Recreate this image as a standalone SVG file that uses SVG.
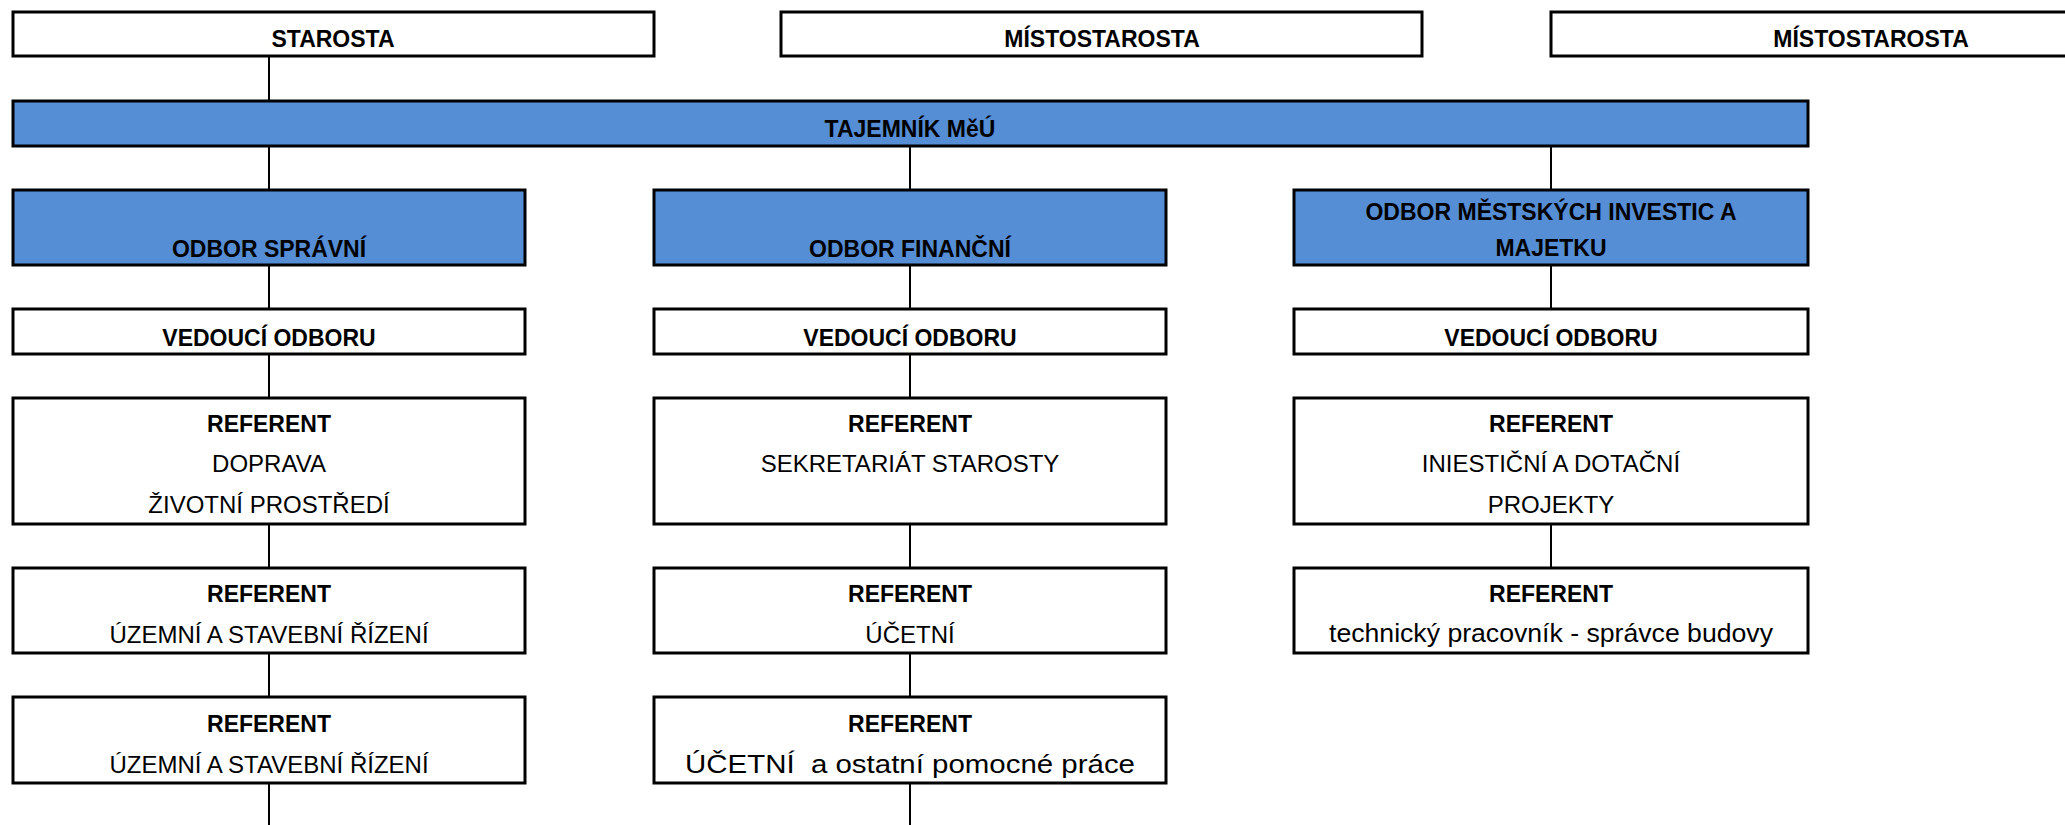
<svg xmlns="http://www.w3.org/2000/svg" width="2065" height="825" viewBox="0 0 2065 825">
<style>
.box{fill:#fff;stroke:#000;stroke-width:3}
.blue{fill:#558ED5;stroke:#000;stroke-width:3}
.b{font-family:"Liberation Sans",Arial,sans-serif;font-weight:bold;font-size:23px;text-anchor:middle;fill:#000}
.r{font-family:"Liberation Sans",Arial,sans-serif;font-size:24px;text-anchor:middle;fill:#000;white-space:pre}
.lc{font-size:26px}
.conn line{stroke:#000;stroke-width:2}
</style>
<rect width="2065" height="825" fill="#fff"/>
<g class="conn" id="connectors">
<line x1="269" y1="56" x2="269" y2="101"/>
<line x1="269" y1="146" x2="269" y2="190"/>
<line x1="269" y1="265" x2="269" y2="309"/>
<line x1="269" y1="354" x2="269" y2="398"/>
<line x1="269" y1="524" x2="269" y2="568"/>
<line x1="269" y1="653" x2="269" y2="697"/>
<line x1="269" y1="783" x2="269" y2="825"/>
<line x1="910" y1="146" x2="910" y2="190"/>
<line x1="910" y1="265" x2="910" y2="309"/>
<line x1="910" y1="354" x2="910" y2="398"/>
<line x1="910" y1="524" x2="910" y2="568"/>
<line x1="910" y1="653" x2="910" y2="697"/>
<line x1="910" y1="783" x2="910" y2="825"/>
<line x1="1551" y1="146" x2="1551" y2="190"/>
<line x1="1551" y1="265" x2="1551" y2="309"/>
<line x1="1551" y1="524" x2="1551" y2="568"/>
</g>
<g id="starosta"><rect class="box" x="13" y="12" width="641" height="44"/><text class="b" x="333" y="47">STAROSTA</text></g>
<g id="mistostarosta1"><rect class="box" x="781" y="12" width="641" height="44"/><text class="b" x="1102" y="47">MÍSTOSTAROSTA</text></g>
<g id="mistostarosta2"><rect class="box" x="1551" y="12" width="641" height="44"/><text class="b" x="1871" y="47">MÍSTOSTAROSTA</text></g>
<g id="tajemnik"><rect class="blue" x="13" y="101" width="1795" height="45"/><text class="b" x="910" y="137">TAJEMNÍK MěÚ</text></g>

<g id="odbor-spravni"><rect class="blue" x="13" y="190" width="512" height="75"/><text class="b" x="269" y="257">ODBOR SPRÁVNÍ</text></g>
<g id="odbor-financni"><rect class="blue" x="654" y="190" width="512" height="75"/><text class="b" x="910" y="257">ODBOR FINANČNÍ</text></g>
<g id="odbor-investic"><rect class="blue" x="1294" y="190" width="514" height="75"/><text class="b" x="1551" y="220">ODBOR MĚSTSKÝCH INVESTIC A</text><text class="b" x="1551" y="256">MAJETKU</text></g>

<g id="vedouci1"><rect class="box" x="13" y="309" width="512" height="45"/><text class="b" x="269" y="346">VEDOUCÍ ODBORU</text></g>
<g id="vedouci2"><rect class="box" x="654" y="309" width="512" height="45"/><text class="b" x="910" y="346">VEDOUCÍ ODBORU</text></g>
<g id="vedouci3"><rect class="box" x="1294" y="309" width="514" height="45"/><text class="b" x="1551" y="346">VEDOUCÍ ODBORU</text></g>

<g id="ref1a"><rect class="box" x="13" y="398" width="512" height="126"/><text class="b" x="269" y="432">REFERENT</text><text class="r" x="269" y="472">DOPRAVA</text><text class="r" x="269" y="513">ŽIVOTNÍ PROSTŘEDÍ</text></g>
<g id="ref1b"><rect class="box" x="13" y="568" width="512" height="85"/><text class="b" x="269" y="602">REFERENT</text><text class="r" x="269" y="643">ÚZEMNÍ A STAVEBNÍ ŘÍZENÍ</text></g>
<g id="ref1c"><rect class="box" x="13" y="697" width="512" height="86"/><text class="b" x="269" y="732">REFERENT</text><text class="r" x="269" y="773">ÚZEMNÍ A STAVEBNÍ ŘÍZENÍ</text></g>

<g id="ref2a"><rect class="box" x="654" y="398" width="512" height="126"/><text class="b" x="910" y="432">REFERENT</text><text class="r" x="910" y="472">SEKRETARIÁT STAROSTY</text></g>
<g id="ref2b"><rect class="box" x="654" y="568" width="512" height="85"/><text class="b" x="910" y="602">REFERENT</text><text class="r" x="910" y="643">ÚČETNÍ</text></g>
<g id="ref2c"><rect class="box" x="654" y="697" width="512" height="86"/><text class="b" x="910" y="732">REFERENT</text><text class="r lc" x="910" y="773" textLength="450" lengthAdjust="spacingAndGlyphs">ÚČETNÍ  a ostatní pomocné práce</text></g>

<g id="ref3a"><rect class="box" x="1294" y="398" width="514" height="126"/><text class="b" x="1551" y="432">REFERENT</text><text class="r" x="1551" y="472">INIESTIČNÍ A DOTAČNÍ</text><text class="r" x="1551" y="513">PROJEKTY</text></g>
<g id="ref3b"><rect class="box" x="1294" y="568" width="514" height="85"/><text class="b" x="1551" y="602">REFERENT</text><text class="r lc" x="1551" y="642" textLength="444" lengthAdjust="spacingAndGlyphs">technický pracovník - správce budovy</text></g>
</svg>
